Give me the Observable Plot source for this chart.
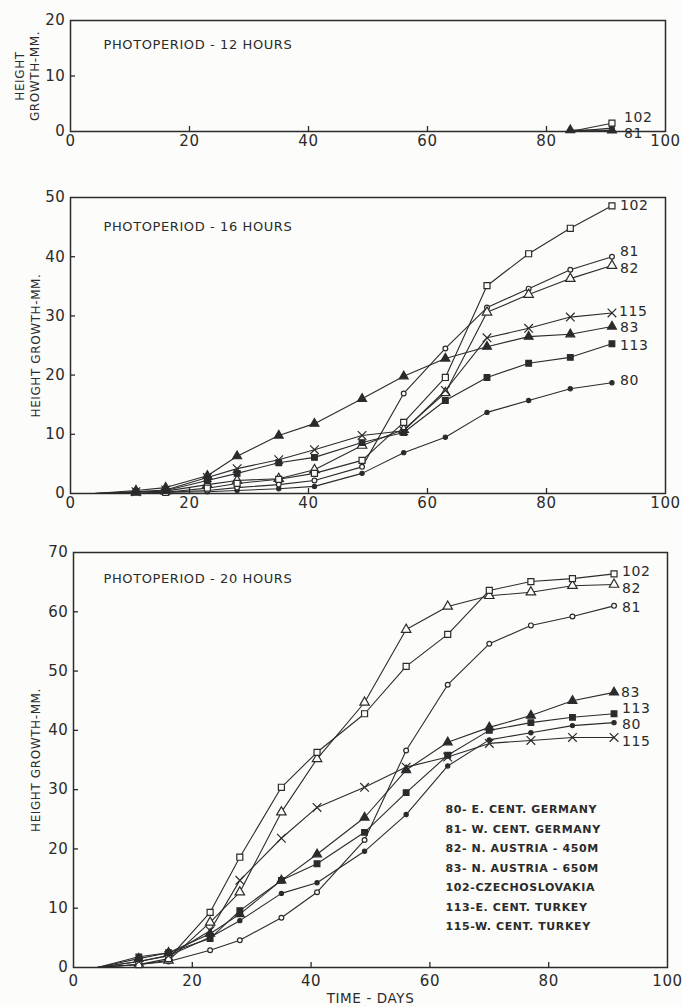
<!DOCTYPE html>
<html>
<head>
<meta charset="utf-8">
<script src="https://cdn.jsdelivr.net/npm/d3@7"></script>
<script src="https://cdn.jsdelivr.net/npm/@observablehq/plot@0.6"></script>
<style>
  body { margin: 0; background: #fcfcfa; }
  #chart { position: relative; width: 682px; height: 1007px; overflow: hidden; }
  #chart svg { position: absolute; left: 0; }
</style>
</head>
<body>
<div id="chart"></div>
<script>
// Seed sources (provenance numbers) and their legend text
const sources = ["80", "81", "82", "83", "102", "113", "115"];
const legendLines = [
  "80- E. CENT. GERMANY",
  "81- W. CENT. GERMANY",
  "82- N. AUSTRIA - 450M",
  "83- N. AUSTRIA - 650M",
  "102-CZECHOSLOVAKIA",
  "113-E. CENT. TURKEY",
  "115-W. CENT. TURKEY"
];

// Time axis (days)
const xTicks = [0, 20, 40, 60, 80, 100];
const days = [4, 11, 16, 23, 28, 35, 41, 49, 56, 63, 70, 77, 84, 91];
const days12 = [84, 91];

// Photoperiod 12 hours: height growth (mm)
const h12_81 = [0, 0.6];
const h12_83 = [0.25, 0.2];
const h12_102 = [0, 1.5];

// Photoperiod 16 hours: height growth (mm)
const h16_80  = [0, 0, 0.2, 0.3, 0.5, 0.8, 1.2, 3.4, 6.9, 9.5, 13.7, 15.7, 17.7, 18.7];
const h16_81  = [0, 0, 0.2, 0.5, 1.0, 1.5, 2.2, 4.5, 16.9, 24.5, 31.4, 34.6, 37.8, 40.0];
const h16_82  = [0, 0.2, 0.4, 1.5, 2.2, 2.5, 4.0, 8.1, 10.8, 17.0, 30.6, 33.6, 36.3, 38.5];
const h16_83  = [0, 0.5, 1.0, 3.0, 6.3, 9.8, 11.8, 16.0, 19.8, 22.8, 24.8, 26.5, 26.9, 28.2];
const h16_102 = [0, 0, 0.2, 0.9, 1.7, 2.4, 3.4, 5.6, 12.0, 19.6, 35.1, 40.5, 44.8, 48.6];
const h16_113 = [0, 0.3, 0.5, 2.2, 3.4, 5.2, 6.1, 8.6, 10.3, 15.7, 19.6, 22.0, 23.0, 25.3];
const h16_115 = [0, 0.3, 0.6, 2.7, 4.2, 5.7, 7.4, 9.8, 10.6, 17.4, 26.3, 27.9, 29.8, 30.5];

// Photoperiod 20 hours: height growth (mm)
const h20_80  = [0, 1.0, 2.0, 5.1, 7.9, 12.5, 14.3, 19.6, 25.8, 34.0, 38.4, 39.6, 40.8, 41.3];
const h20_81  = [0, 0.5, 1.0, 2.9, 4.6, 8.4, 12.7, 21.5, 36.6, 47.7, 54.6, 57.7, 59.2, 61.0];
const h20_82  = [0, 0.5, 1.2, 7.6, 12.7, 26.2, 35.2, 44.7, 57.0, 60.9, 62.7, 63.3, 64.4, 64.6];
const h20_83  = [0, 1.5, 2.5, 5.7, 9.0, 14.7, 19.1, 25.3, 33.3, 38.0, 40.5, 42.5, 45.0, 46.4];
const h20_102 = [0, 0.5, 1.5, 9.3, 18.6, 30.4, 36.3, 42.8, 50.8, 56.2, 63.6, 65.1, 65.6, 66.4];
const h20_113 = [0, 1.8, 2.5, 4.9, 9.6, 14.7, 17.5, 22.8, 29.5, 35.8, 40.0, 41.3, 42.2, 42.8];
const h20_115 = [0, 1.0, 2.0, 6.2, 14.7, 21.8, 27.0, 30.4, 33.8, 35.5, 37.8, 38.3, 38.8, 38.8];

const ink = "#2b2b2b";
const paper = "#fcfcfa";

// Marker for each source: open/filled circle, triangle, square, and a cross
const markerStyle = {
  "80":  {symbol: "circle",   fill: ink,   r: 2.1},
  "81":  {symbol: "circle",   fill: paper, r: 2.4},
  "82":  {symbol: "triangle", fill: paper, r: 3.5},
  "83":  {symbol: "triangle", fill: ink,   r: 3.3},
  "102": {symbol: "square",   fill: paper, r: 3.4},
  "113": {symbol: "square",   fill: ink,   r: 3.2},
  "115": {symbol: "times",    fill: "none", r: 4.0}
};

function toRows(x, seriesMap) {
  const rows = [];
  for (const [source, values] of Object.entries(seriesMap)) {
    values.forEach((v, i) => rows.push({source, day: x[i], value: v}));
  }
  return rows;
}

const rows12 = toRows(days12, {"81": h12_81, "102": h12_102, "83": h12_83});
const rows16 = toRows(days, {"80": h16_80, "81": h16_81, "82": h16_82, "83": h16_83, "102": h16_102, "113": h16_113, "115": h16_115});
const rows20 = toRows(days, {"80": h20_80, "81": h20_81, "82": h20_82, "83": h20_83, "102": h20_102, "113": h20_113, "115": h20_115});

function panel(cfg) {
  const {top, height, marginTop, marginBottom, marginLeft, marginRight, yMax, yTicks,
         rows, labelOffsets, title, titleDx, titleDy, yTitle, yTitleDx, xPad, extra = []} = cfg;
  const width = 682;
  const pxY = (height - marginTop - marginBottom) / yMax;
  const pxX = (width - marginLeft - marginRight) / 100;
  const tickLen = 5;
  const present = sources.filter(s => rows.some(d => d.source === s));

  const marks = [
    Plot.frame({stroke: ink, strokeWidth: 1.5}),
    Plot.axisX(xTicks, {tickSize: 0, tickPadding: xPad, fontSize: 15, fill: ink, label: null}),
    Plot.axisY(yTicks, {tickSize: 0, tickPadding: 5, fontSize: 15, fill: ink, label: null}),
    Plot.ruleX(xTicks.slice(1, -1), {y1: 0, y2: tickLen / pxY, stroke: ink, strokeWidth: 1.3}),
    Plot.ruleY(yTicks.slice(1, -1), {x1: 0, x2: tickLen / pxX, stroke: ink, strokeWidth: 1.3}),
    Plot.line(rows, {x: "day", y: "value", z: "source", stroke: ink, strokeWidth: 1.1}),
    ...present.map(s => {
      const st = markerStyle[s];
      return Plot.dot(rows.filter(d => d.source === s && d.value > 0), {
        x: "day", y: "value", symbol: st.symbol, r: st.r, fill: st.fill,
        stroke: ink, strokeWidth: 1.2
      });
    }),
    ...Object.entries(labelOffsets).map(([s, [dx, dy]]) => {
      const last = rows.filter(d => d.source === s).at(-1);
      return Plot.text([last], {x: "day", y: "value", text: () => s, dx, dy,
        textAnchor: "start", fontSize: 14, fill: ink});
    }),
    Plot.text([title], {frameAnchor: "top-left", dx: titleDx, dy: titleDy, lineAnchor: "middle",
      textAnchor: "start", fontSize: 13, fill: ink}),
    Plot.text([yTitle], {frameAnchor: "left", dx: yTitleDx, rotate: -90, lineAnchor: "middle",
      textAnchor: "middle", fontSize: 12, lineHeight: 1.25, fill: ink}),
    ...extra
  ];

  const svg = Plot.plot({
    width, height, marginTop, marginBottom, marginLeft, marginRight,
    x: {domain: [0, 100]},
    y: {domain: [0, yMax]},
    style: {fontFamily: '"DejaVu Sans", sans-serif', fontSize: "15px", color: ink,
            background: "transparent", letterSpacing: "0.6px", overflow: "visible"},
    marks
  });
  svg.style.top = top + "px";
  return svg;
}

const chart = document.getElementById("chart");

chart.appendChild(panel({
  top: 0, height: 160, marginTop: 20, marginBottom: 29, marginLeft: 70, marginRight: 17,
  yMax: 20, yTicks: [0, 10, 20], rows: rows12, xPad: 4,
  labelOffsets: {"102": [12, -6], "81": [12, 5]},
  title: "PHOTOPERIOD - 12 HOURS", titleDx: 33, titleDy: 24,
  yTitle: "HEIGHT\nGROWTH-MM.", yTitleDx: -44
}));

chart.appendChild(panel({
  top: 180, height: 335, marginTop: 17, marginBottom: 22, marginLeft: 70, marginRight: 17,
  yMax: 50, yTicks: [0, 10, 20, 30, 40, 50], rows: rows16, xPad: 4,
  labelOffsets: {"102": [8, 0], "81": [8, -5], "82": [8, 3], "115": [7, -1], "83": [8, 1], "113": [8, 2], "80": [8, -2]},
  title: "PHOTOPERIOD - 16 HOURS", titleDx: 33, titleDy: 29,
  yTitle: "HEIGHT GROWTH-MM.", yTitleDx: -35
}));

chart.appendChild(panel({
  top: 530, height: 477, marginTop: 22, marginBottom: 40, marginLeft: 73, marginRight: 15,
  yMax: 70, yTicks: [0, 10, 20, 30, 40, 50, 60, 70], rows: rows20, xPad: 8,
  labelOffsets: {"102": [8, -2], "82": [8, 4], "81": [8, 2], "83": [7, 0], "113": [8, -5], "80": [8, 2], "115": [8, 4]},
  title: "PHOTOPERIOD - 20 HOURS", titleDx: 30, titleDy: 26,
  yTitle: "HEIGHT GROWTH-MM.", yTitleDx: -38,
  extra: [
    Plot.text([legendLines.join("\n")], {frameAnchor: "top-left", dx: 372, dy: 247,
      lineAnchor: "top", textAnchor: "start", fontSize: 11, fontWeight: "bold",
      lineHeight: 1.77, fill: ink}),
    Plot.text(["TIME - DAYS"], {frameAnchor: "bottom", dy: 31, lineAnchor: "middle",
      fontSize: 13.5, fill: ink})
  ]
}));
</script>
</body>
</html>
